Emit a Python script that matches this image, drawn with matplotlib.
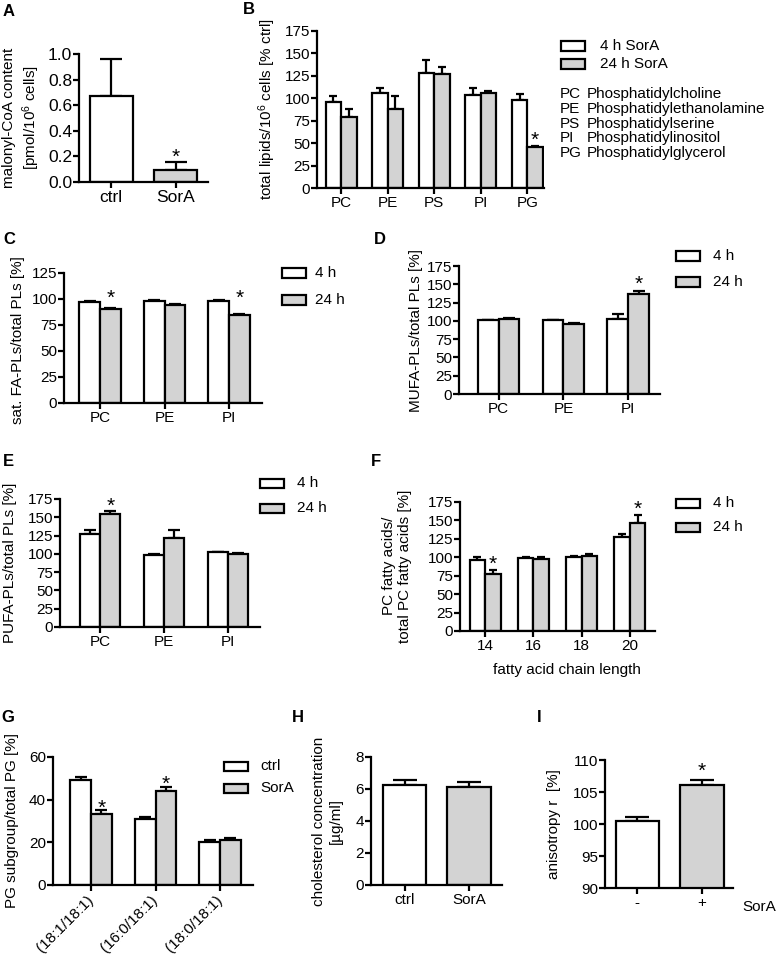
import numpy as np
import matplotlib
matplotlib.use("Agg")
import matplotlib.pyplot as plt
from matplotlib.patches import Rectangle

plt.rcParams["font.family"] = ["Liberation Sans", "DejaVu Sans"]
plt.rcParams["mathtext.fontset"] = "custom"
plt.rcParams["mathtext.rm"] = "Liberation Sans"
plt.rcParams["mathtext.it"] = "Liberation Sans:italic"
plt.rcParams["mathtext.bf"] = "Liberation Sans:bold"

# ---- data ----
a_groups = ["ctrl", "SorA"]
a_vals = [0.67, 0.09]
a_err = [0.29, 0.07]

b_cats = ["PC", "PE", "PS", "PI", "PG"]
b_4h = [96, 106, 128, 104, 98]
b_4h_err = [6, 5, 15, 8, 7]
b_24h = [79, 88, 127, 106, 46]
b_24h_err = [9, 15, 8, 2, 1]
b_abbr = ["PC", "PE", "PS", "PI", "PG"]
b_names = ["Phosphatidylcholine", "Phosphatidylethanolamine",
           "Phosphatidylserine", "Phosphatidylinositol", "Phosphatidylglycerol"]

c_cats = ["PC", "PE", "PI"]
c_4h = [97, 98, 98]
c_4h_err = [0.8, 1.0, 1.5]
c_24h = [90, 94, 85]
c_24h_err = [1.5, 1.2, 1.0]

d_cats = ["PC", "PE", "PI"]
d_4h = [101, 101, 103]
d_4h_err = [0.8, 0.5, 7]
d_24h = [103, 96, 137]
d_24h_err = [1.2, 1.5, 4]

e_cats = ["PC", "PE", "PI"]
e_4h = [127, 98, 102]
e_4h_err = [5, 2, 0.8]
e_24h = [155, 122, 100]
e_24h_err = [3.5, 11, 0.8]

f_cats = ["14", "16", "18", "20"]
f_4h = [96, 99, 101, 127]
f_4h_err = [4, 1, 1, 5]
f_24h = [77, 98, 102, 147]
f_24h_err = [6, 3, 3, 11]

g_cats = ["(18:1/18:1)", "(16:0/18:1)", "(18:0/18:1)"]
g_ctrl = [49, 31, 20]
g_ctrl_err = [1.7, 1.0, 1.2]
g_sora = [33.5, 44, 21]
g_sora_err = [1.6, 1.8, 0.9]

h_groups = ["ctrl", "SorA"]
h_vals = [6.25, 6.1]
h_err = [0.3, 0.35]

i_groups = ["-", "+"]
i_vals = [100.5, 106.1]
i_err = [0.6, 0.8]

# significance stars: (group, series, y of star)
a_stars = [(1, 0, 0.245)]
b_stars = [(4, 1, 60)]
c_stars = [(0, 1, 106.7), (2, 1, 106.7)]
d_stars = [(2, 1, 158.6)]
e_stars = [(0, 1, 174)]
f_stars = [(0, 1, 99), (3, 1, 173.6)]
g_stars = [(0, 1, 39), (1, 1, 50.2)]
i_stars = [(1, 0, 109.2)]

# ---- styling ----
W, H = 779, 958
DPI = 100
FS = 11
LW = 1.6
WHITE = "white"
GRAY = "#d3d3d3"
STAR_FS = 15

fig = plt.figure(figsize=(W / DPI, H / DPI), dpi=DPI)


def fx(px):
    return px / W


def fy(py):
    return 1 - py / H


def make_axes(left, top, right, bottom, ylim, yticks, xlim, fs=FS):
    ax = fig.add_axes([fx(left), fy(bottom), (right - left) / W, (bottom - top) / H])
    ax.set_ylim(*ylim)
    ax.set_xlim(*xlim)
    ax.set_yticks(yticks)
    for s in ["top", "right"]:
        ax.spines[s].set_visible(False)
    for s in ["left", "bottom"]:
        ax.spines[s].set_linewidth(LW)
    ax.tick_params(axis="both", direction="out", length=4, width=LW,
                   labelsize=fs, pad=2)
    ax.tick_params(axis="y", pad=1)
    ax.set_facecolor("none")
    return ax


def bar_px(ax, width):
    x0, x1 = ax.get_xlim()
    return width * ax.get_position().width * W / (x1 - x0)


def draw_bars(ax, x, vals, errs, width, color):
    ax.bar(x, vals, width, color=color, edgecolor="black", linewidth=LW, zorder=2)
    cap = 0.27 * bar_px(ax, width) / (DPI / 72)
    ax.errorbar(x, vals, yerr=[np.zeros(len(vals)), errs], fmt="none",
                ecolor="black", elinewidth=LW, capsize=cap, capthick=LW, zorder=1)


def grouped(ax, cats, series, errs, width=0.32):
    x = np.arange(len(cats))
    offs = [-width / 2, width / 2]
    for k, (vals, err) in enumerate(zip(series, errs)):
        draw_bars(ax, x + offs[k], vals, err, width, [WHITE, GRAY][k])
    ax.set_xticks(x)
    ax.set_xticklabels(cats)
    return offs


def stars(ax, star_list, offs):
    for g, s, y in star_list:
        ax.annotate("*", (g + offs[s], y), xytext=(0, -0.575 * STAR_FS),
                    textcoords="offset points", ha="center", va="baseline",
                    fontsize=STAR_FS, clip_on=False)


def ylabel(ax, text, xpx, ypx):
    ax.set_ylabel(text, fontsize=FS, va="center", linespacing=1.25)
    ax.yaxis.set_label_coords(fx(xpx), fy(ypx), transform=fig.transFigure)


def legend(entries, xbox, ycenters, xtext):
    for (lab, col), yc in zip(entries, ycenters):
        fig.add_artist(Rectangle((fx(xbox), fy(yc + 4.5)), 24 / W, 9 / H,
                                 transform=fig.transFigure, facecolor=col,
                                 edgecolor="black", linewidth=LW))
        fig.text(fx(xtext), fy(yc), lab, fontsize=FS, ha="left", va="center")


def panel_label(letter, xpx, ypx):
    fig.text(fx(xpx), fy(ypx), letter, fontsize=12, fontweight="bold",
             ha="center", va="center")


# ---- A ----
ax = make_axes(79, 54, 208, 182, (0, 1.0), [0, 0.2, 0.4, 0.6, 0.8, 1.0],
               (-0.5, 1.5), fs=12.5)
ax.set_yticklabels(["0.0", "0.2", "0.4", "0.6", "0.8", "1.0"])
draw_bars(ax, [0], [a_vals[0]], [a_err[0]], 0.66, WHITE)
draw_bars(ax, [1], [a_vals[1]], [a_err[1]], 0.66, GRAY)
ax.set_xticks([0, 1])
ax.set_xticklabels(a_groups)
stars(ax, a_stars, [0])
ylabel(ax, "malonyl-CoA content\n[pmol/10$^6$ cells]", 22, 118)
panel_label("A", 9, 12)

# ---- B ----
ax = make_axes(317, 31, 544, 188, (0, 175), np.arange(0, 176, 25), (-0.52, 4.36))
offs = grouped(ax, b_cats, [b_4h, b_24h], [b_4h_err, b_24h_err], width=0.333)
stars(ax, b_stars, offs)
ylabel(ax, "total lipids/10$^6$ cells [% ctrl]", 267, 109)
legend([("4 h SorA", WHITE), ("24 h SorA", GRAY)], 561, [46, 64], 600)
for k, (ab, nm) in enumerate(zip(b_abbr, b_names)):
    yc = 94 + 14.8 * k
    fig.text(fx(560), fy(yc), ab, fontsize=FS, ha="left", va="center")
    fig.text(fx(587), fy(yc), nm, fontsize=FS, ha="left", va="center")
panel_label("B", 249, 10)

# ---- C ----
ax = make_axes(64, 273, 262, 403, (0, 125), np.arange(0, 126, 25), (-0.56, 2.51))
offs = grouped(ax, c_cats, [c_4h, c_24h], [c_4h_err, c_24h_err])
stars(ax, c_stars, offs)
ylabel(ax, "sat. FA-PLs/total PLs [%]", 18, 340)
legend([("4 h", WHITE), ("24 h", GRAY)], 282, [273, 300], 315)
panel_label("C", 9, 240)

# ---- D ----
ax = make_axes(459, 266, 660, 394, (0, 175), np.arange(0, 176, 25), (-0.61, 2.49))
offs = grouped(ax, d_cats, [d_4h, d_24h], [d_4h_err, d_24h_err])
stars(ax, d_stars, offs)
ylabel(ax, "MUFA-PLs/total PLs [%]", 416, 330)
legend([("4 h", WHITE), ("24 h", GRAY)], 676, [256, 282], 713)
panel_label("D", 380, 239)

# ---- E ----
ax = make_axes(60, 499, 260, 627, (0, 175), np.arange(0, 176, 25), (-0.625, 2.5))
offs = grouped(ax, e_cats, [e_4h, e_24h], [e_4h_err, e_24h_err])
stars(ax, e_stars, offs)
ylabel(ax, "PUFA-PLs/total PLs [%]", 10, 563)
legend([("4 h", WHITE), ("24 h", GRAY)], 260, [483, 508], 297)
panel_label("E", 8, 462)

# ---- F ----
ax = make_axes(460, 502, 655, 631, (0, 175), np.arange(0, 176, 25), (-0.52, 3.52))
offs = grouped(ax, f_cats, [f_4h, f_24h], [f_4h_err, f_24h_err])
stars(ax, f_stars, offs)
ylabel(ax, "PC fatty acids/\ntotal PC fatty acids [%]", 397, 566)
ax.set_xlabel("fatty acid chain length", fontsize=FS)
ax.xaxis.set_label_coords(fx(567), fy(670), transform=fig.transFigure)
ax.xaxis.label.set_va("center")
legend([("4 h", WHITE), ("24 h", GRAY)], 676, [503, 527], 713)
panel_label("F", 376, 462)

# ---- G ----
ax = make_axes(53, 757, 253, 885, (0, 60), [0, 20, 40, 60], (-0.59, 2.51))
offs = grouped(ax, g_cats, [g_ctrl, g_sora], [g_ctrl_err, g_sora_err])
for t in ax.get_xticklabels():
    t.set_rotation(45)
    t.set_ha("right")
    t.set_va("center")
    t.set_rotation_mode("anchor")
ax.tick_params(axis="x", pad=5)
stars(ax, g_stars, offs)
ylabel(ax, "PG subgroup/total PG [%]", 12, 821)
legend([("ctrl", WHITE), ("SorA", GRAY)], 224, [766, 788], 260)
panel_label("G", 8, 717)

# ---- H ----
ax = make_axes(371, 757, 502, 885, (0, 8), [0, 2, 4, 6, 8], (-0.52, 1.51))
draw_bars(ax, [0], [h_vals[0]], [h_err[0]], 0.674, WHITE)
draw_bars(ax, [1], [h_vals[1]], [h_err[1]], 0.674, GRAY)
ax.set_xticks([0, 1])
ax.set_xticklabels(h_groups)
ylabel(ax, "cholesterol concentration\n[\u00b5g/ml]", 327, 821)
panel_label("H", 298, 717)

# ---- I ----
ax = make_axes(605, 760, 733, 888, (90, 110), [90, 95, 100, 105, 110], (-0.5, 1.48))
draw_bars(ax, [0], [i_vals[0]], [i_err[0]], 0.667, WHITE)
draw_bars(ax, [1], [i_vals[1]], [i_err[1]], 0.667, GRAY)
ax.set_xticks([0, 1])
ax.set_xticklabels(i_groups)
stars(ax, i_stars, [0])
ylabel(ax, "anisotropy r  [%]", 554, 824)
fig.text(fx(742), fy(907), "SorA", fontsize=FS, ha="left", va="center")
panel_label("I", 539, 717)

fig.savefig("out.png", dpi=DPI)
